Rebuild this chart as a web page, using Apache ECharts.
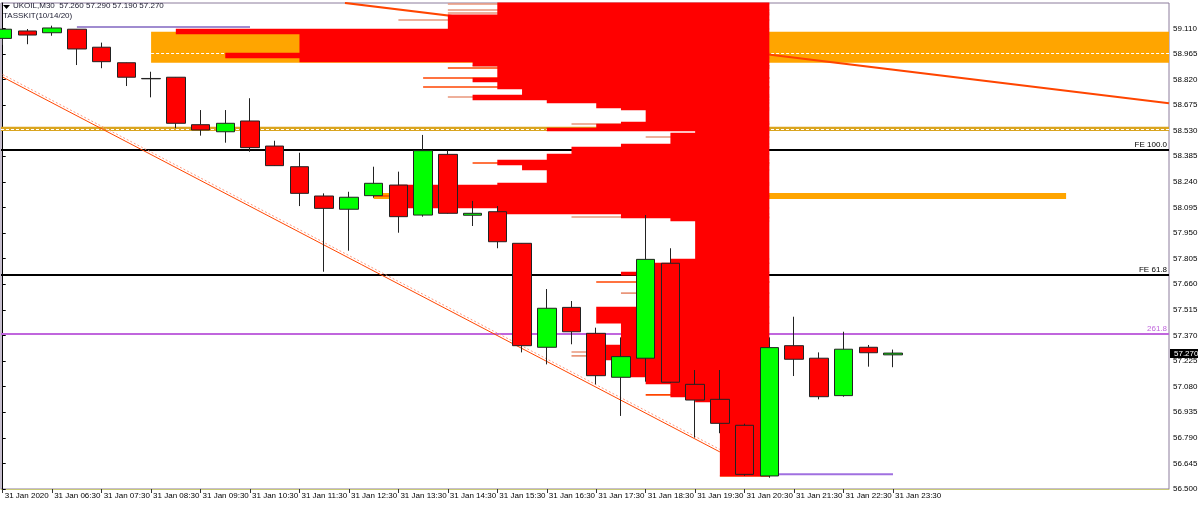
<!DOCTYPE html>
<html><head><meta charset="utf-8">
<script src="https://cdn.jsdelivr.net/npm/echarts@6/dist/echarts.min.js"></script>
<style>html,body{margin:0;padding:0;background:#fff}#c{width:1200px;height:507px}</style>
</head><body><div id="c"></div>
<script>
// ---------- DATA ----------
const symbolText = 'UKOIL,M30  57.260 57.290 57.190 57.270';
const indicatorText = 'TASSKIT(10/14/20)';
const dayLabel = '31 Jan';
const firstLabel = '31 Jan 2020';
const times = ['05:30','06:00','06:30','07:00','07:30','08:00','08:30','09:00','09:30','10:00',
  '10:30','11:00','11:30','12:00','12:30','13:00','13:30','14:00','14:30','15:00',
  '15:30','16:00','16:30','17:00','17:30','18:00','18:30','19:00','19:30','20:00',
  '20:30','21:00','21:30','22:00','22:30','23:00','23:30'];
const opens  = [59.053,59.095,59.085,59.105,59.003,58.915,58.826,58.833,58.564,58.524,
  58.585,58.443,58.326,58.160,58.085,58.162,58.222,58.052,58.396,58.051,
  58.071,57.892,57.303,57.529,57.382,57.133,57.241,57.779,57.093,57.008,
  56.861,56.574,57.312,57.241,57.029,57.303,57.260];
const highs  = [59.106,59.106,59.125,59.106,59.029,58.916,58.864,58.834,58.647,58.647,
  58.714,58.473,58.405,58.175,58.184,58.326,58.298,58.506,58.417,58.132,
  58.103,57.893,57.633,57.565,57.414,57.359,58.052,57.864,57.174,57.174,
  56.870,57.359,57.476,57.274,57.391,57.316,57.290];
const lows   = [59.016,59.020,59.068,58.902,58.884,58.783,58.719,58.544,58.502,58.462,
  58.411,58.330,58.103,57.731,57.850,58.150,57.952,58.043,58.060,57.990,
  57.864,57.274,57.206,57.320,57.093,56.914,57.108,57.100,56.791,56.816,
  56.575,56.564,57.140,57.008,57.023,57.193,57.190];
const closes = [59.105,59.072,59.112,58.993,58.921,58.833,58.824,58.572,58.534,58.572,
  58.434,58.332,58.175,58.090,58.153,58.232,58.043,58.417,58.062,58.062,
  57.901,57.312,57.524,57.391,57.142,57.250,57.801,57.105,57.004,56.872,
  56.583,57.301,57.235,57.023,57.292,57.272,57.270];
const xTickIdx = [0,2,4,6,8,10,12,14,16,18,20,22,24,26,28,30,32,34,36];
const yTicks = [56.500,56.645,56.790,56.935,57.080,57.225,57.370,57.515,57.660,57.805,
  57.950,58.095,58.240,58.385,58.530,58.675,58.820,58.965,59.110];

// volume profile: [top price, bottom price, first bar index]; ends at profileEndIdx
const profileEndIdx = 31;
const profileRows = [
  [59.254,59.186,20],[59.186,59.106,18],[59.106,59.078,7],[59.078,58.970,12],[58.970,58.942,9],
  [58.942,58.919,12],[58.919,58.897,19],[58.897,58.829,20],[58.829,58.806,19],[58.806,58.766,20],
  [58.766,58.732,21],[58.732,58.704,19],[58.704,58.687,22],[58.687,58.659,24],[58.659,58.647,25],
  [58.647,58.579,26],[58.579,58.568,25],[58.568,58.545,24],[58.545,58.528,22],[58.528,58.517,28],
  [58.517,58.455,27],[58.455,58.438,25],[58.438,58.398,23],[58.398,58.364,22],[58.364,58.336,20],
  [58.336,58.307,21],[58.307,58.234,22],[58.234,58.222,20],[58.222,58.092,16],[58.092,58.058,20],
  [58.058,58.035,25],[58.035,58.018,27],[58.018,57.803,28],[57.803,57.780,27],[57.780,57.729,26],
  [57.729,57.712,25],[57.712,57.531,26],[57.531,57.440,24],[57.440,57.316,25],[57.316,57.231,24],
  [57.231,57.135,25],[57.135,57.095,26],[57.095,57.021,27],[57.021,56.993,28],[56.993,56.574,29]
];
// thin profile lines: [price, first bar index]
const profileAccentLines = [[58.347,19],[58.885,18],[58.829,17],[58.778,17],[57.673,24],[57.033,26],[56.574,29],[58.160,15]];
const profileSalmonLines = [[59.248,18],[59.214,18],[59.197,18],[59.157,16],[58.897,19],[58.721,18],
  [58.568,23],[58.494,26],[58.041,23],[57.610,25],[57.276,23],[57.254,23],[57.044,27]];

// zones: [from idx, to idx, top, bottom, mid]
const supplyZone = [6, 48, 59.091, 58.915, 58.969];
const demandZone = [15, 43, 58.177, 58.143];
const goldBand   = [-1, 48, 58.553, 58.528, 58.540];
const fibPrices = [58.421, 57.712, 57.376];
const fibLabels = ['FE 100.0', 'FE 61.8', '261.8'];
const trendDown = [0, 58.834, 29, 56.710];
const trendTop  = [[13.84, 59.254], [47.16, 58.685]];
const purpleTop = [[3, 59.118], [10, 59.118]];
const purpleLow = [[31, 56.583], [36, 56.583]];
const lastPrice = 57.270;

// ---------- CHART ----------
const X_MIN = -0.069, X_MAX = 47.161, Y_MIN = 56.5, Y_MAX = 59.2535;
const FONT = 'Liberation Sans';
const chart = echarts.init(document.getElementById('c'), null, {renderer: 'canvas', width: 1200, height: 507});
const candleData = times.map((t, i) => [i, opens[i], closes[i], lows[i], highs[i]]);

function clampX(cs, x) { return Math.max(cs.x, Math.min(cs.x + cs.width, x)); }

function zoneSeries(zone, fill, dashed, z) {
  return {
    type: 'custom', z: z, silent: true, animation: false, data: [zone],
    renderItem(params, api) {
      const cs = params.coordSys;
      const a = api.coord([api.value(0), api.value(2)]);
      const b = api.coord([api.value(1), api.value(3)]);
      const x0 = clampX(cs, a[0]), x1 = clampX(cs, b[0]);
      const ch = [{type: 'rect', shape: {x: x0, y: a[1], width: x1 - x0, height: b[1] - a[1]}, style: {fill: fill}}];
      if (dashed) {
        const m = Math.round(api.coord([0, api.value(4)])[1]) + 0.5;
        ch.push({type: 'line', shape: {x1: x0, y1: m, x2: x1, y2: m}, style: {stroke: '#fff', lineWidth: 1, lineDash: [3, 2]}});
      }
      return {type: 'group', children: ch};
    }
  };
}

function thinLineSeries(lines, color, z) {
  return {
    type: 'custom', z: z, silent: true, animation: false, data: lines,
    renderItem(params, api) {
      const a = api.coord([api.value(1), api.value(0)]);
      const b = api.coord([profileEndIdx, api.value(0)]);
      return {type: 'rect', shape: {x: a[0], y: a[1] - 0.8, width: b[0] - a[0], height: 1.6}, style: {fill: color}};
    }
  };
}

const fibColors = ['#000000', '#000000', '#C066DD'];

const option = {
  animation: false,
  backgroundColor: '#ffffff',
  textStyle: {fontFamily: FONT},
  grid: {left: 1, right: 31, top: 3, bottom: 18, show: true, borderColor: '#8C7C9C', borderWidth: 1, outerBoundsMode: 'none'},
  xAxis: {
    type: 'value', min: X_MIN, max: X_MAX,
    splitLine: {show: false},
    axisLine: {show: true, lineStyle: {color: '#C8C878', width: 1}},
    axisTick: {show: true, customValues: xTickIdx, length: 4, lineStyle: {color: '#333'}},
    axisLabel: {
      customValues: xTickIdx, align: 'left', margin: 3, fontSize: 8, fontFamily: FONT, color: '#000',
      padding: [0, 0, 0, 2],
      formatter: v => (v === 0 ? firstLabel : dayLabel + ' ' + times[v])
    }
  },
  yAxis: {
    type: 'value', position: 'right', min: Y_MIN, max: Y_MAX, scale: true,
    splitLine: {show: false},
    axisLine: {show: true, lineStyle: {color: '#000', width: 1}},
    axisTick: {show: true, customValues: yTicks, length: 3, lineStyle: {color: '#000'}},
    axisLabel: {customValues: yTicks, margin: 4, fontSize: 8, fontFamily: FONT, color: '#000', formatter: v => v.toFixed(3)}
  },
  graphic: [
    {type: 'polygon', shape: {points: [[3, 5], [10, 5], [6.5, 9]]}, style: {fill: '#000'}},
    {type: 'text', left: 13, top: 2, style: {text: symbolText, font: '8px ' + FONT, fill: '#1a1a2e'}},
    {type: 'text', left: 3, top: 12, style: {text: indicatorText, font: '8px ' + FONT, fill: '#1a1a2e'}}
  ],
  series: [
    zoneSeries(supplyZone, '#FFA500', true, 1),
    zoneSeries(demandZone, '#FFA500', false, 1),
    zoneSeries(goldBand, '#DAA520', true, 1),
    {
      type: 'custom', z: 2, silent: true, animation: false,
      data: fibPrices.map((p, i) => [p, i]),
      renderItem(params, api) {
        const cs = params.coordSys;
        const y = Math.round(api.coord([0, api.value(0)])[1]);
        const i = api.value(1);
        const col = fibColors[i];
        const purple = i === 2;
        return {type: 'group', children: [
          {type: 'line', shape: {x1: cs.x, y1: y, x2: cs.x + cs.width, y2: y}, style: {stroke: col, lineWidth: 2}},
          {type: 'text', x: cs.x + cs.width - 1, y: y - 1, style: {
            text: fibLabels[i], font: '8px ' + FONT, fill: purple ? '#C066DD' : '#000',
            align: 'right', verticalAlign: 'bottom',
            backgroundColor: purple ? null : '#fff', padding: [0, 1, 0, 1]}}
        ]};
      }
    },
    {type: 'line', z: 2, silent: true, animation: false, symbol: 'none', data: purpleTop, lineStyle: {color: '#A08CD0', width: 2}},
    {type: 'line', z: 2, silent: true, animation: false, symbol: 'none', data: purpleLow, lineStyle: {color: '#A070E0', width: 2}},
    {type: 'line', z: 2, silent: true, animation: false, symbol: 'none', data: trendTop, lineStyle: {color: '#FF4500', width: 2}},
    {
      type: 'custom', z: 2, silent: true, animation: false, data: [trendDown],
      renderItem(params, api) {
        const a = api.coord([api.value(0), api.value(1)]);
        const b = api.coord([api.value(2), api.value(3)]);
        return {type: 'group', children: [
          {type: 'line', shape: {x1: a[0], y1: a[1], x2: b[0], y2: b[1]}, style: {stroke: '#FF4500', lineWidth: 1}},
          {type: 'line', shape: {x1: a[0], y1: a[1] - 2.5, x2: b[0], y2: b[1] - 2.5}, style: {stroke: '#FF9A80', lineWidth: 1, lineDash: [2, 2]}}
        ]};
      }
    },
    thinLineSeries(profileSalmonLines, '#E9967A', 3),
    thinLineSeries(profileAccentLines, '#FF4500', 3),
    {
      type: 'custom', z: 4, silent: true, animation: false, data: profileRows,
      renderItem(params, api) {
        const a = api.coord([api.value(2), api.value(0)]);
        const b = api.coord([profileEndIdx, api.value(1)]);
        return {type: 'rect', shape: {x: a[0], y: a[1] - 0.3, width: b[0] - a[0], height: b[1] - a[1] + 0.6}, style: {fill: '#FF0000'}};
      }
    },
    {
      type: 'candlestick', z: 6, silent: true, animation: false, barWidth: 19,
      data: candleData,
      itemStyle: {color: '#00FF00', color0: '#FF0000', borderColor: '#222', borderColor0: '#222', borderWidth: 1}
    },
    {
      type: 'custom', z: 8, silent: true, animation: false, clip: false, data: [[X_MAX, lastPrice]],
      renderItem(params, api) {
        const cs = params.coordSys;
        const y = api.coord([api.value(0), api.value(1)])[1];
        const x = cs.x + cs.width + 1;
        return {type: 'group', children: [
          {type: 'rect', shape: {x: x, y: Math.round(y) - 4, width: 28, height: 9}, style: {fill: '#000'}},
          {type: 'text', x: x + 4, y: Math.round(y) + 0.5, style: {text: lastPrice.toFixed(3), font: '8px ' + FONT, fill: '#fff', verticalAlign: 'middle'}}
        ]};
      }
    }
  ]
};
chart.setOption(option);
</script></body></html>
